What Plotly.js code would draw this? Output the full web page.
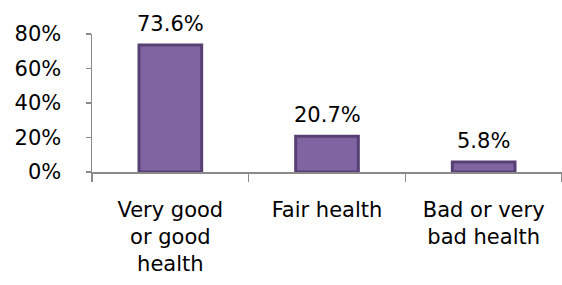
<!DOCTYPE html>
<html><head><meta charset="utf-8">
<script src="https://cdn.plot.ly/plotly-3.0.1.min.js"></script>
<style>html,body{margin:0;padding:0;background:#fff}#chart{width:562px;height:285px}</style>
</head><body><div id="chart"></div>
<script>
const categories = ["Very good<br>or good<br>health", "Fair health", "Bad or very<br>bad health"];
const values = [73.6, 20.7, 5.8];
const valueLabels = ["73.6%", "20.7%", "5.8%"];
const yTickVals = [0, 20, 40, 60, 80];
const yTickText = ["0%", "20%", "40%", "60%", "80%"];

const FONT = "DejaVu Sans";
const trace = {
  type: "bar",
  x: categories,
  y: values,
  width: 0.4,
  marker: {color: "#8064A2", line: {color: "#574174", width: 3}},
  hoverinfo: "none"
};
const annotations = categories.map((c, i) => ({
  x: c, y: values[i], xref: "x", yref: "y",
  text: valueLabels[i], showarrow: false,
  yanchor: "bottom", yshift: 7,
  font: {family: FONT, size: 21, color: "#000"}
}));
const layout = {
  width: 562, height: 285,
  margin: {l: 92, r: 0, t: 34, b: 113},
  paper_bgcolor: "#fff", plot_bgcolor: "#fff",
  showlegend: false,
  font: {family: FONT, size: 21, color: "#000"},
  annotations: annotations,
  xaxis: {
    showline: true, linecolor: "#8A8A8A", linewidth: 1.5,
    ticks: "outside", tickson: "boundaries", ticklen: 8, tickcolor: "#8A8A8A", tickwidth: 1.5,
    showgrid: false, tickangle: 0, automargin: false, ticklabelstandoff: 18,
    tickfont: {family: FONT, size: 21, color: "#000"}
  },
  yaxis: {
    range: [0, 80], tickvals: yTickVals, ticktext: yTickText,
    showline: true, linecolor: "#8A8A8A", linewidth: 1.5,
    ticks: "outside", ticklen: 5, tickcolor: "#8A8A8A", tickwidth: 1.5,
    showgrid: false, zeroline: false, automargin: false, ticklabelstandoff: 20,
    tickfont: {family: FONT, size: 21, color: "#000"}
  }
};
Plotly.newPlot("chart", [trace], layout, {displayModeBar: false, staticPlot: true});
</script></body></html>
